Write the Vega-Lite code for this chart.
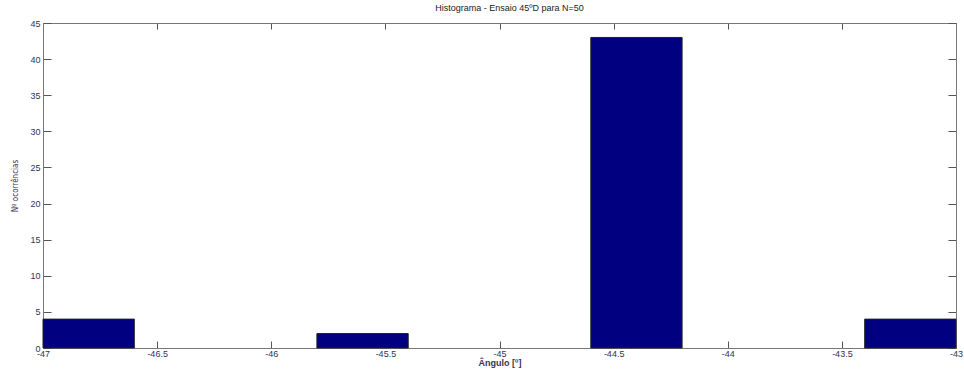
{
  "$schema": "https://vega.github.io/schema/vega-lite/v6.json",
  "autosize": "none",
  "width": 913,
  "height": 325,
  "padding": {"left": 43, "top": 23, "right": 8, "bottom": 23},
  "background": "white",
  "title": {"text": "Histograma - Ensaio 45ºD para N=50", "font": "Liberation Sans", "fontSize": 9, "fontWeight": "normal", "color": "#222", "offset": 6, "dx": 10},
  "config": {
    "view": {"stroke": null},
    "axis": {"grid": false, "domainColor": "#777", "tickColor": "#555", "labelFont": "Liberation Sans", "labelFontSize": 9, "labelColor": "#333355", "titleFont": "Liberation Sans", "titleFontSize": 9, "titleFontWeight": "normal", "titleColor": "#333355"}
  },
  "data": {"values": [
    {"lo": -47.0, "hi": -46.6, "count": 4},
    {"lo": -45.8, "hi": -45.4, "count": 2},
    {"lo": -44.6, "hi": -44.2, "count": 43},
    {"lo": -43.4, "hi": -43.0, "count": 4}
  ]},
  "layer": [
    {
      "mark": {"type": "bar", "color": "#000080", "stroke": "#222", "strokeWidth": 1},
      "encoding": {
        "x": {"field": "lo", "type": "quantitative", "scale": {"domain": [-47, -43], "nice": false, "zero": false},
          "axis": {"orient": "bottom", "title": "Ângulo [º]", "values": [-47, -46.5, -46, -45.5, -45, -44.5, -44, -43.5, -43], "labelExpr": "toString(datum.value)", "tickSize": -7, "labelPadding": 8, "labelFlush": false, "titlePadding": 0, "titleFontWeight": "bold"}},
        "x2": {"field": "hi"},
        "y": {"field": "count", "type": "quantitative", "scale": {"domain": [0, 45], "nice": false},
          "axis": {"orient": "left", "title": "Nº ocorrências", "titleFont": "Liberation Sans Narrow, DejaVu Sans Condensed", "titleFontSize": 8, "values": [0, 5, 10, 15, 20, 25, 30, 35, 40, 45], "tickSize": -8, "labelPadding": 11, "titlePadding": 10}},
        "y2": {"datum": 0}
      }
    },
    {
      "mark": {"type": "rule", "opacity": 0},
      "encoding": {
        "x": {"field": "lo", "type": "quantitative", "scale": {"domain": [-47, -43], "nice": false, "zero": false},
          "axis": {"orient": "top", "title": null, "labels": false, "values": [-47, -46.5, -46, -45.5, -45, -44.5, -44, -43.5, -43], "tickSize": -6}},
        "y": {"field": "count", "type": "quantitative", "scale": {"domain": [0, 45], "nice": false},
          "axis": {"orient": "right", "title": null, "labels": false, "values": [0, 5, 10, 15, 20, 25, 30, 35, 40, 45], "tickSize": -8}}
      }
    }
  ],
  "resolve": {"axis": {"x": "independent", "y": "independent"}}
}
